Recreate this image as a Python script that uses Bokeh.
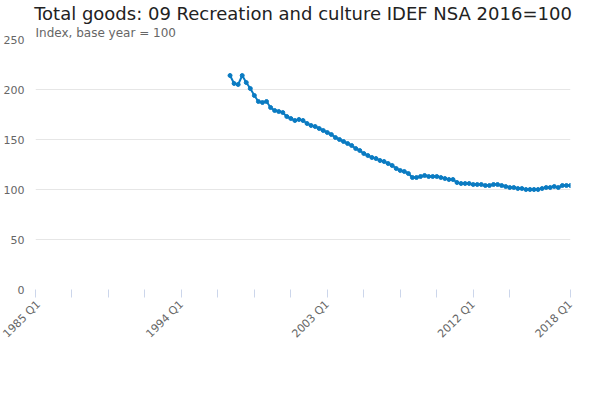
from bokeh.plotting import figure
from bokeh.models import FixedTicker, Legend, LegendItem, Title
from bokeh.embed import file_html
from bokeh.resources import INLINE
import math

start_index = 48  # 1997 Q1 quarters after 1985 Q1
values = [214,206,205,214, 207,201,194,188, 187,188,182,179, 178,177,173,171,
          169,170,169,166, 164,163,161,159, 157,155,152,150, 148,146,144,141,
          139,136,134,132, 131,129,128,126, 124,121,119,118, 116,112,112,113,
          114,113,113,113, 112,111,110,110, 107,106,106,106, 105,105,105,104,
          104,105,105,104, 103,102,102,101, 101,100,100,100, 100,101,102,102,
          103,102,104,104, 104]
xs = [start_index + i for i in range(len(values))]
tick_pos = list(range(0, 118, 9)) + [132]
tick_labels = {0: "1985 Q1", 36: "1994 Q1", 72: "2003 Q1", 108: "2012 Q1", 132: "2018 Q1"}
color = "#0a7bc2"
name = "Total goods: 09 Recreation and culture IDEF NSA 2016=100"

p = figure(frame_width=535, frame_height=250, output_backend="svg", toolbar_location=None,
           x_range=(0, 132), y_range=(0, 250), min_border_left=5, min_border_right=8,
           min_border_top=0, min_border_bottom=0)
p.add_layout(Title(text="Index, base year = 100", text_font_size="12px", text_color="#666666",
                   text_font_style="normal", text_font="DejaVu Sans", standoff=0), "above")
p.add_layout(Title(text="Total goods: 09 Recreation and culture IDEF NSA 2016=100", text_font_size="18px",
                   text_font_style="normal", text_font="DejaVu Sans", text_color="#222222",
                   align="center", standoff=0), "above")
r1 = p.line(xs, values, color=color, line_width=2)
r2 = p.scatter(xs, values, color=color, size=4)
p.xaxis.ticker = FixedTicker(ticks=tick_pos)
p.xaxis.major_label_overrides = {t: tick_labels.get(t, "") for t in tick_pos}
p.xaxis.major_label_orientation = math.pi / 4
p.xaxis.axis_line_color = None
p.xaxis.major_tick_line_color = "#ccd6eb"
p.xaxis.major_tick_in = 0
p.xaxis.major_tick_out = 8
p.xaxis.minor_tick_line_color = None
p.yaxis.ticker = FixedTicker(ticks=[0, 50, 100, 150, 200, 250])
p.yaxis.axis_line_color = None
p.yaxis.major_tick_line_color = None
p.yaxis.minor_tick_line_color = None
for ax in (p.xaxis[0], p.yaxis[0]):
    ax.major_label_text_color = "#666666"
    ax.major_label_text_font_size = "11px"
    ax.major_label_text_font = "DejaVu Sans"
p.xgrid.grid_line_color = None
p.ygrid.grid_line_color = "#e6e6e6"
p.outline_line_color = None
legend = Legend(items=[LegendItem(label=name, renderers=[r1, r2])], orientation="horizontal",
                location="center", label_text_font_style="bold", label_text_font_size="12px",
                label_text_color="#333333", label_text_font="DejaVu Sans",
                border_line_color=None, glyph_width=22, padding=0, margin=8)
p.add_layout(legend, "below")
p.add_layout(Title(text="Source:", align="right", text_font_size="12px", text_color="#666666",
                   text_font_style="normal", text_font="DejaVu Sans", standoff=0), "below")
open("out.html", "w").write(file_html(p, INLINE))
